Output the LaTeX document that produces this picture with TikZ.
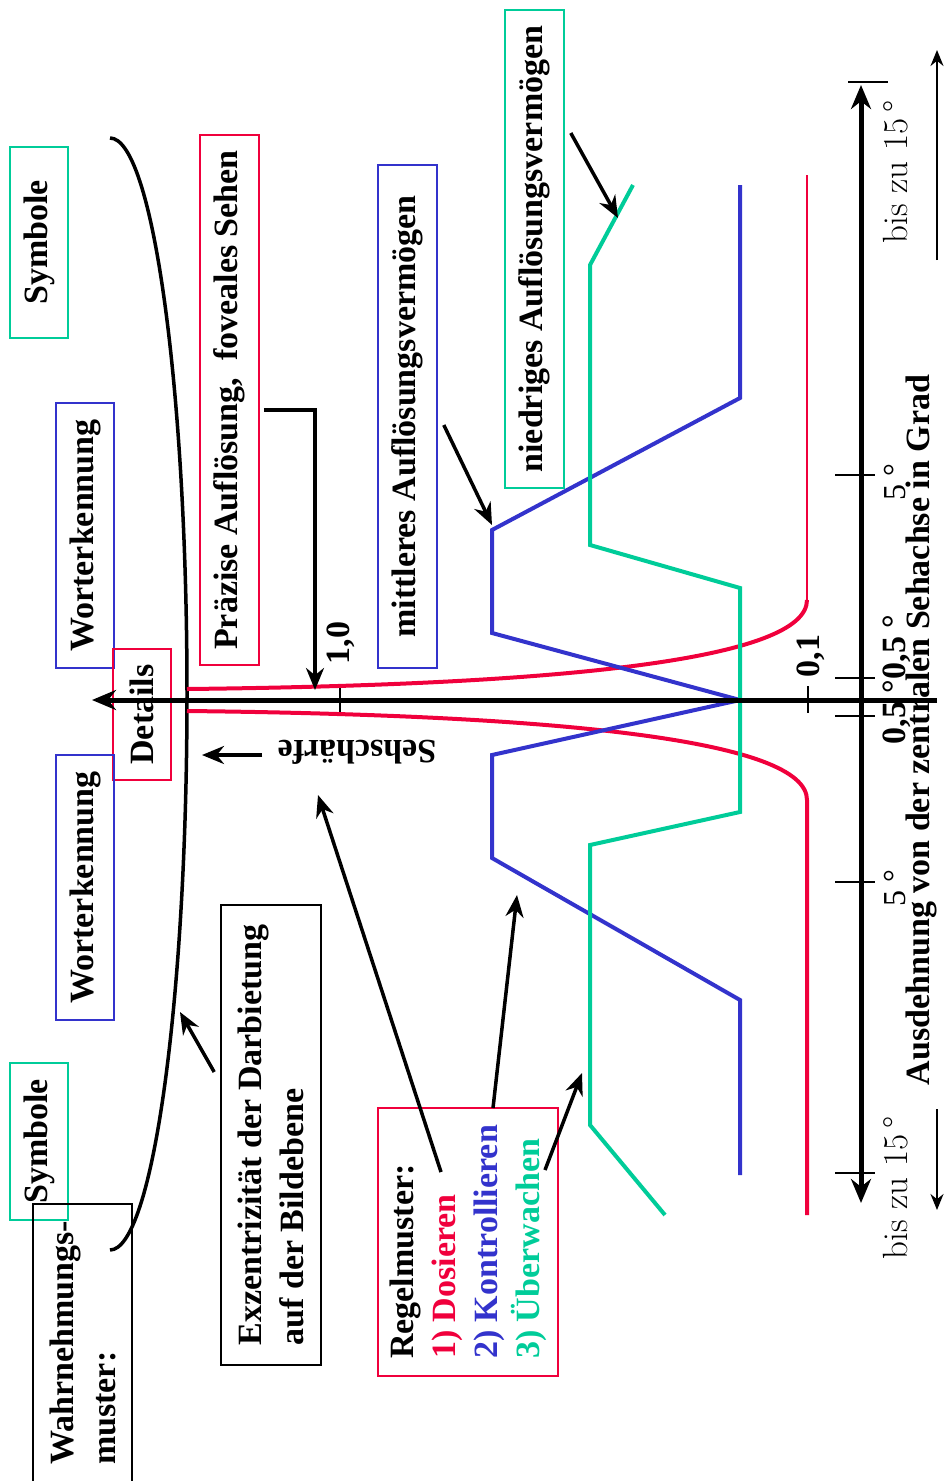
\documentclass[tikz,border=0pt]{standalone}
\usepackage{fontspec}
\newfontfamily\tnr{Liberation Serif}
\usetikzlibrary{arrows.meta}
\definecolor{dosred}{HTML}{F0003C}
\definecolor{kontblue}{HTML}{3333CC}
\definecolor{uebgreen}{HTML}{00CC99}
\tikzset{
  lbl/.style={font=\tnr\bfseries\fontsize{34}{42}\selectfont, inner sep=0pt},
  tbox/.style={lbl, draw, rotate=90, line width=1.6pt, align=left},
  arr/.style={line width=3.5pt, -{Stealth[length=22pt,width=18pt]}},
  thinarr/.style={line width=2pt, -{Stealth[length=16pt,width=13pt]}},
  tick/.style={line width=2pt},
  kurve/.style={line width=4pt},
}
\begin{document}
\begin{tikzpicture}[x=1pt,y=-1pt]
      \useasboundingbox (0,0) rectangle (952,1481);
      % Kästen
      \node[tbox, draw=uebgreen, minimum width=191pt, minimum height=58pt] (symA) at (39,242.5) {Symbole};
      \node[tbox, draw=kontblue, minimum width=265pt, minimum height=58pt] (wortA) at (85,535.5) {Worterkennung};
      \node[tbox, draw=dosred, minimum width=131pt, minimum height=58pt] (details) at (142,714.5) {Details};
      \node[tbox, draw=kontblue, minimum width=265pt, minimum height=58pt] (wortB) at (85,887.5) {Worterkennung};
      \node[tbox, draw=uebgreen, minimum width=157pt, minimum height=58pt] (symB) at (39,1141.5) {Symbole};
      \node[tbox, minimum width=278pt, minimum height=99pt] (wahr) at (82.5,1343) {Wahrnehmungs-\\muster:};
      \node[tbox, minimum width=460pt, minimum height=100pt] (exz) at (271,1135) {Exzentrizität der Darbietung\\auf der Bildebene};
      \node[tbox, draw=dosred, minimum width=530pt, minimum height=59pt] (praez) at (229.5,400) {Präzise Auflösung,\ \ foveales Sehen};
      \node[tbox, draw=kontblue, minimum width=503pt, minimum height=59pt] (mittl) at (407.5,416.5) {mittleres Auflösungsvermögen};
      \node[tbox, draw=uebgreen, minimum width=478pt, minimum height=59pt] (niedr) at (534.5,249) {niedriges Auflösungsvermögen};
      \node[tbox, draw=dosred, minimum width=268pt, minimum height=180pt] (regel) at (468,1242)
            {Regelmuster:\\\textcolor{dosred}{1) Dosieren}\\\textcolor{kontblue}{2) Kontrollieren}\\\textcolor{uebgreen}{3) Überwachen}};
      % Beschriftungen
      \node[lbl, rotate=180] (seh) at (357,752) {Sehschärfe};
      \node[lbl, rotate=90] (l10) at (341,643) {1,0};
      \node[lbl, rotate=90] (l01) at (811,656) {0,1};
      \node[lbl, rotate=90] (l05a) at (897,647) {0,5 °};
      \node[lbl, rotate=90] (l05b) at (897,712) {0,5 °};
      \node[lbl, font=\tnr\fontsize{32}{38}\selectfont, rotate=90] (l5a) at (895,482) {5 °};
      \node[lbl, font=\tnr\fontsize{32}{38}\selectfont, rotate=90] (l5b) at (895,888) {5 °};
      \node[lbl, font=\fontsize{35}{40}\selectfont, rotate=90] (bisA) at (896,172) {bis zu 15\,°};
      \node[lbl, font=\fontsize{35}{40}\selectfont, rotate=90] (bisB) at (896,1188) {bis zu 15\,°};
      \node[lbl, rotate=90] (ausd) at (921,730) {Ausdehnung von der zentralen Sehachse in Grad};
      % Kurven
      \draw[line width=3.5pt] (110,138) arc[start angle=-90, end angle=90, x radius=77, y radius=556];
      \draw[kurve, dosred] (187,689) .. controls (560,685) and (807,660) .. (807,600);
      \draw[dosred, line width=2pt] (807,602) -- (807,175);
      \draw[kurve, dosred] (187,711) .. controls (560,715) and (807,740) .. (807,800) -- (807,1215);
      \draw[kurve, kontblue] (740,185) -- (740,398) -- (492,530) -- (492,633) -- (740,700)
            -- (492,755) -- (492,858) -- (740,1000) -- (740,1175);
      \draw[kurve, uebgreen] (633,185) -- (590,265) -- (590,545) -- (740,588) -- (740,812)
            -- (590,845) -- (590,1125) -- (665,1215);
      % Achsen
      \draw[line width=5pt, -{Stealth[length=24pt,width=20pt]}] (937,700) -- (92,700);
      \draw[line width=5pt, {Stealth[length=24pt,width=20pt]}-{Stealth[length=24pt,width=20pt]}] (861,1203) -- (861,85);
      \draw[tick] (848,82) -- (888,82) (835,475) -- (875,475) (835,678) -- (875,678)
            (835,716) -- (875,716) (835,882) -- (875,882) (835,1173) -- (875,1173)
            (808,686) -- (808,713) (340,688) -- (340,712);
      \draw[thinarr] (937,260) -- (937,50);
      \draw[thinarr] (937,1109) -- (937,1210);
      % Pfeile
      \coordinate (redhit) at (315,690);
      \coordinate (bluehit) at (492,525);
      \coordinate (greenhit) at (618,218);
      \coordinate (ellhit) at (180,1012);
      \coordinate (sehtip) at (202,755);
      \coordinate (dosout) at (441,1172);
      \coordinate (kontout) at (493,1108);
      \coordinate (uebout) at (545,1170);
      \coordinate (sehhit) at (318,795);
      \coordinate (konthit) at (517,895);
      \coordinate (uebhit) at (582,1073);
      \draw[arr] ([shift={(4pt,-10pt)}]praez.south) -| (redhit);
      \draw[arr] ([shift={(6pt,-8.5pt)}]mittl.south) -- (bluehit);
      \draw[arr] ([shift={(6pt,116pt)}]niedr.south) -- (greenhit);
      \draw[arr] ([shift={(-6pt,63pt)}]exz.north) -- (ellhit);
      \draw[arr] (seh.east |- sehtip) ++(-15,0) -- (sehtip);
      \draw[arr] (dosout) -- (sehhit);
      \draw[arr] (kontout) -- (konthit);
      \draw[arr] (uebout) -- (uebhit);
\end{tikzpicture}
\end{document}
